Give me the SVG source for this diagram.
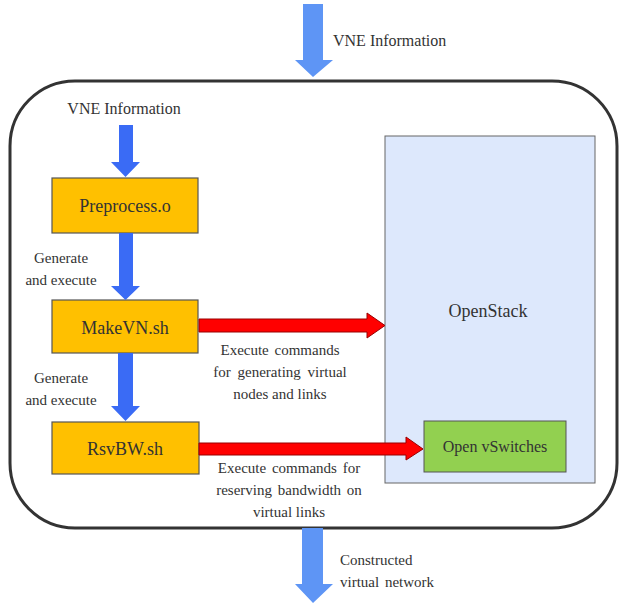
<svg xmlns="http://www.w3.org/2000/svg" width="620" height="605" viewBox="0 0 620 605">
<defs>
<style>
.box{fill:#FFC000;stroke:#555;stroke-width:1.2;}
.ba{fill:#3A6BF5;}
.la{fill:#5E95F5;}
.ra{fill:#F00;stroke:#900;stroke-width:1;}
</style>
</defs>
<rect width="620" height="605" fill="#fff"/>
<rect id="frame" x="10" y="81" width="607" height="447" rx="65" ry="65" fill="#fff" stroke="#333" stroke-width="3"/>
<g id="openstack">
<rect x="385" y="136" width="210" height="347" fill="#DDE8FC" stroke="#666" stroke-width="1"/>
<text x="488" y="317" font-family="Liberation Serif" font-size="18" text-anchor="middle" fill="#333">OpenStack</text>
</g>
<g id="ovs">
<rect x="424" y="421" width="142" height="51" fill="#92D050" stroke="#555" stroke-width="1"/>
<text x="495" y="452" font-family="Liberation Serif" font-size="16" text-anchor="middle" fill="#333">Open vSwitches</text>
</g>
<g id="preprocess">
<rect class="box" x="52" y="178" width="146" height="55"/>
<text x="125" y="212" font-family="Liberation Serif" font-size="18" text-anchor="middle" fill="#333">Preprocess.o</text>
</g>
<g id="makevn">
<rect class="box" x="52" y="300" width="146" height="53"/>
<text x="125" y="334" font-family="Liberation Serif" font-size="18" text-anchor="middle" fill="#333">MakeVN.sh</text>
</g>
<g id="rsvbw">
<rect class="box" x="52" y="422" width="147" height="52"/>
<text x="125" y="455" font-family="Liberation Serif" font-size="18" text-anchor="middle" fill="#333">RsvBW.sh</text>
</g>
<g id="connectors">
<polygon class="la" points="303,4 323,4 323,60 333,60 313,77 295,60 303,60"/>
<polygon class="ba" points="119,125 133,125 133,162 140,162 125.5,177 111,162 119,162"/>
<polygon class="ba" points="119,233 133,233 133,286 140,286 125.5,300 111,286 119,286"/>
<polygon class="ba" points="118,353 133,353 133,406 140,406 125.5,421 111,406 118,406"/>
<polygon class="ra" points="199,319 367,319 367,313 385,325.5 367,338 367,332 199,332"/>
<polygon class="ra" points="199,443 406,443 406,437 423,449 406,460 406,455 199,455"/>
<polygon class="la" points="302,528 323,528 323,584 333,584 313,603 295,584 302,584"/>
</g>
<g id="labels">
<text x="333" y="46" font-family="Liberation Serif" font-size="16" fill="#333">VNE Information</text>
<text x="124" y="114" font-family="Liberation Serif" font-size="16" text-anchor="middle" fill="#333">VNE Information</text>
<text x="61" y="263" font-family="Liberation Serif" font-size="15" text-anchor="middle" fill="#333">Generate</text>
<text x="61" y="285" font-family="Liberation Serif" font-size="15" text-anchor="middle" fill="#333">and execute</text>
<text x="61" y="383" font-family="Liberation Serif" font-size="15" text-anchor="middle" fill="#333">Generate</text>
<text x="61" y="405" font-family="Liberation Serif" font-size="15" text-anchor="middle" fill="#333">and execute</text>
<text x="280" y="355" font-family="Liberation Serif" font-size="15" text-anchor="middle" fill="#333" word-spacing="2">Execute commands</text>
<text x="280" y="377" font-family="Liberation Serif" font-size="15" text-anchor="middle" fill="#333" word-spacing="3">for generating virtual</text>
<text x="280" y="399" font-family="Liberation Serif" font-size="15" text-anchor="middle" fill="#333">nodes and links</text>
<text x="289" y="473" font-family="Liberation Serif" font-size="15" text-anchor="middle" fill="#333" word-spacing="2">Execute commands for</text>
<text x="289" y="495" font-family="Liberation Serif" font-size="15" text-anchor="middle" fill="#333" word-spacing="2">reserving bandwidth on</text>
<text x="289" y="517" font-family="Liberation Serif" font-size="15" text-anchor="middle" fill="#333">virtual links</text>
<text x="340" y="565" font-family="Liberation Serif" font-size="15" fill="#333">Constructed</text>
<text x="340" y="587" font-family="Liberation Serif" font-size="15" fill="#333" word-spacing="2">virtual network</text>
</g>
</svg>
